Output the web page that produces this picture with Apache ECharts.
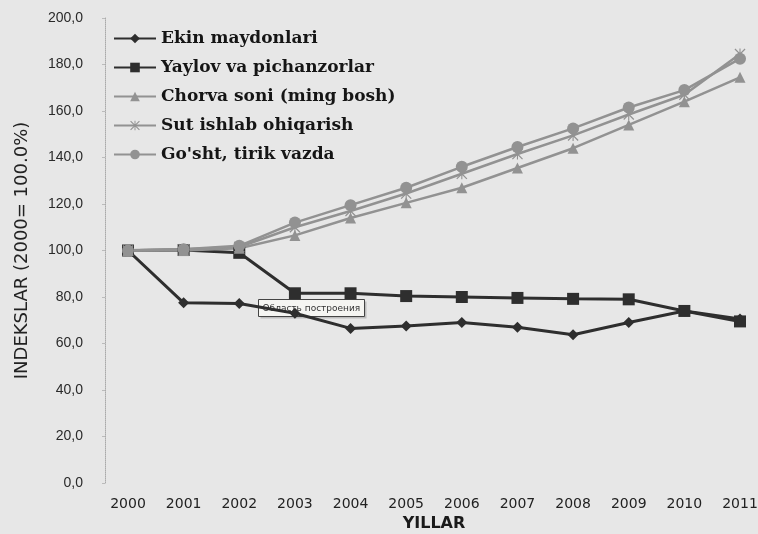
<!DOCTYPE html>
<html>
<head>
<meta charset="utf-8">
<script src="https://cdn.jsdelivr.net/npm/echarts@6/dist/echarts.min.js"></script>
<style>
html,body{margin:0;padding:0;background:#e7e7e7;}
#main{width:758px;height:534px;}
</style>
</head>
<body>
<div id="main"></div>
<script>
const years = ['2000','2001','2002','2003','2004','2005','2006','2007','2008','2009','2010','2011'];
const ekin   = [100, 77.5, 77.2, 73.0, 66.5, 67.5, 69.0, 67.0, 63.8, 69.0, 74.0, 70.5];
const yaylov = [100, 100.2, 99.0, 81.6, 81.6, 80.4, 80.0, 79.6, 79.2, 79.0, 74.0, 69.5];
const chorva = [100, 100.0, 101.0, 106.5, 114.0, 120.5, 127.0, 135.5, 144.0, 154.0, 164.0, 174.5];
const sut    = [100, 100.5, 101.5, 110.0, 117.0, 124.5, 133.0, 141.5, 149.5, 158.5, 167.0, 184.5];
const gosht  = [100, 100.5, 102.0, 112.0, 119.5, 127.0, 136.0, 144.5, 152.5, 161.5, 169.0, 182.5];
const seriesNames = ['Ekin maydonlari','Yaylov va pichanzorlar','Chorva soni (ming bosh)','Sut ishlab ohiqarish',"Go'sht, tirik vazda"];
const yTicks = {min:0, max:200, interval:20};

const asterisk = 'path://M45 0L55 0L55 100L45 100Z M0 8L8 0L100 92L92 100Z M92 0L100 8L8 100L0 92Z';
const dark = '#2e2e2e', gray = '#929292';

const chart = echarts.init(document.getElementById('main'));
function mk(name, data, color, symbol, size, width){
  return {name, type:'line', data, symbol, symbolSize:size, showSymbol:true,
    lineStyle:{color, width}, itemStyle:{color, borderWidth:0}, z: 2};
}
chart.setOption({
  backgroundColor:'#e7e7e7',
  animation:false,
  grid:{left:128, right:18, top:18, bottom:51, outerBoundsMode:'none', containLabel:false},
  legend:{
    orient:'vertical', left:108, top:24,
    itemWidth:42, itemHeight:12, itemGap:10, itemTextGap:8,
    textStyle:{fontFamily:'DejaVu Serif', fontWeight:'bold', fontSize:17, color:'#151515', lineHeight:19},
    data:seriesNames
  },
  xAxis:{
    type:'category', data:years, boundaryGap:false,
    axisLine:{show:false}, axisTick:{show:false},
    axisLabel:{fontFamily:'DejaVu Sans', fontSize:14, color:'#222', margin:14},
    name:'YILLAR', nameLocation:'middle', nameGap:33,
    nameTextStyle:{fontFamily:'DejaVu Sans', fontWeight:'bold', fontSize:16, color:'#1a1a1a'}
  },
  yAxis:{
    type:'value', min:yTicks.min, max:yTicks.max, interval:yTicks.interval, offset:23,
    axisLine:{show:true, lineStyle:{color:'#aaaaaa', type:'dotted', width:1}},
    axisTick:{show:true, length:3, lineStyle:{color:'#bbbbbb'}},
    splitLine:{show:false},
    axisLabel:{fontFamily:'Liberation Sans', fontSize:14, color:'#2a2a2a', margin:22,
      formatter:v=>v.toFixed(1).replace('.',',')},
    name:'INDEKSLAR (2000= 100.0%)', nameLocation:'middle', nameGap:74,
    nameTextStyle:{fontFamily:'DejaVu Sans', fontSize:18, color:'#222'}
  },
  series:[
    mk(seriesNames[0], ekin, dark, 'diamond', 11, 3),
    mk(seriesNames[1], yaylov, dark, 'rect', 12, 3),
    mk(seriesNames[2], chorva, gray, 'triangle', 11, 2.5),
    mk(seriesNames[3], sut, gray, asterisk, 11, 2.5),
    mk(seriesNames[4], gosht, gray, 'circle', 12, 2.5)
  ],
  graphic:[
    {type:'group', left:258, top:299, z:100, children:[
      {type:'rect', shape:{x:2, y:2, width:106, height:17}, style:{fill:'rgba(0,0,0,0.18)'}},
      {type:'rect', shape:{x:0, y:0, width:106, height:17}, style:{fill:'#f5f5f2', stroke:'#444', lineWidth:1}},
      {type:'text', x:4, y:9, style:{text:'Область построения', fontFamily:'DejaVu Sans', fontSize:9, fill:'#333', verticalAlign:'middle'}}
    ]}
  ]
});
</script>
</body>
</html>
